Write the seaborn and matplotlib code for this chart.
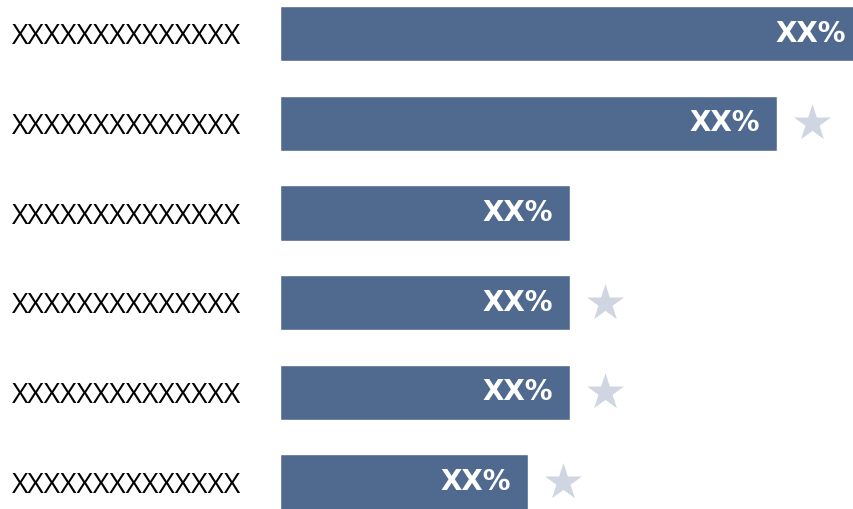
import matplotlib
matplotlib.use("Agg")
import matplotlib.pyplot as plt
from matplotlib import font_manager
import seaborn as sns
import pandas as pd

# ---- data ----
row_ids = ["r1", "r2", "r3", "r4", "r5", "r6"]
row_labels = ["XXXXXXXXXXXXXX"] * 6
values = [101.6, 86.6, 50.5, 50.5, 50.5, 43.2]
value_texts = ["XX%"] * 6
starred = [False, True, False, True, True, True]

BAR = "#506a8f"
STAR = "#d0d6e1"

names = {f.name for f in font_manager.fontManager.ttflist}
if "Liberation Sans Narrow" in names:
    label_font, label_size = "Liberation Sans Narrow", 21.5
else:
    label_font, label_size = "Open Sans", 20.4

sns.set_theme(style="white")
plt.rcParams["font.family"] = ["DejaVu Sans"]

df = pd.DataFrame({"row": row_ids, "value": values})

fig = plt.figure(figsize=(8.54, 5.09), dpi=100)
ax = fig.add_axes([280 / 854, 0, 1 - 280 / 854, 1])

sns.barplot(data=df, x="value", y="row", order=row_ids, orient="h",
            color=BAR, saturation=1, width=0.617, ax=ax)

star_df = pd.DataFrame({
    "x": [v + 6.1 for v, s in zip(values, starred) if s],
    "y": [i for i, s in enumerate(starred) if s],
})
sns.scatterplot(data=star_df, x="x", y="y", marker="*", s=780,
                color=STAR, linewidth=0, ax=ax, zorder=3)

for i, (v, t) in enumerate(zip(values, value_texts)):
    ax.text(v - 3.0, i, t, ha="right", va="center", color="white",
            fontsize=20, fontweight="bold", family="DejaVu Sans")

ax.set_xlim(0, 100)
ax.set_ylim(5.30, -0.375)
ax.set_yticks(range(len(row_ids)))
ax.set_yticklabels(row_labels, family=label_font, fontsize=label_size, color="black")
for lab in ax.get_yticklabels():
    lab.set_ha("left")
ax.tick_params(axis="y", length=0, pad=268 * 0.72)
ax.set_xticks([])
ax.set_xlabel("")
ax.set_ylabel("")
for sp in ax.spines.values():
    sp.set_visible(False)

fig.savefig("out.png", dpi=100)
